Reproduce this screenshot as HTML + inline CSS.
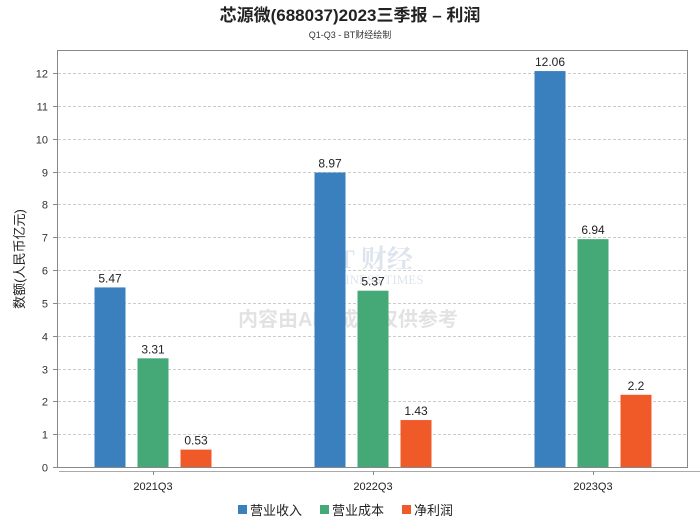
<!DOCTYPE html>
<html><head><meta charset="utf-8"><style>
body{margin:0;background:#fff;width:700px;height:524px;overflow:hidden;font-family:"Liberation Sans","Noto Sans CJK SC",sans-serif}
</style></head><body>
<svg id="chart" width="700" height="524" xmlns="http://www.w3.org/2000/svg">
<text x="350" y="21" text-anchor="middle" font-size="17" font-weight="bold" fill="#222" font-family="Liberation Sans,Noto Sans CJK SC,sans-serif">芯源微(688037)2023三季报 – 利润</text>
<text x="350" y="38" text-anchor="middle" font-size="9" fill="#333" font-family="Liberation Sans,Noto Sans CJK SC,sans-serif">Q1-Q3 - BT财经绘制</text>
<g id="grid"></g>
<rect x="57.5" y="50.5" width="630" height="417" fill="none" stroke="#888"/>
<line x1="59" y1="471.5" x2="700" y2="471.5" stroke="#aaa"/>
<g opacity="0.18">
<text x="320" y="268" font-size="26" font-family="Liberation Serif,Noto Serif CJK SC,serif" font-weight="bold" fill="#4a6fa5">BT 财经</text>
<text x="320" y="284" font-size="13" font-family="Liberation Serif,serif" fill="#4a6fa5">BUSINESS TIMES</text>
<text x="348" y="326" text-anchor="middle" font-size="20" font-weight="bold" fill="#666" font-family="Liberation Sans,Noto Sans CJK SC,sans-serif">内容由AI生成，仅供参考</text>
</g>
<g id="bars"></g>
<text transform="translate(24,259) rotate(-90)" text-anchor="middle" font-size="13" fill="#222" font-family="Liberation Sans,Noto Sans CJK SC,sans-serif">数额(人民币亿元)</text>
<g font-size="13" fill="#222" font-family="Liberation Sans,Noto Sans CJK SC,sans-serif">
<rect x="238" y="505" width="9" height="9" fill="#3a80bf"/>
<text x="250" y="515">营业收入</text>
<rect x="320" y="505" width="9" height="9" fill="#45a877"/>
<text x="332" y="515">营业成本</text>
<rect x="402" y="505" width="9" height="9" fill="#f05a28"/>
<text x="414" y="515">净利润</text>
</g>
</svg>
<script>
const categories = ["2021Q3","2022Q3","2023Q3"];
const revenue = [5.47, 8.97, 12.06];
const cost = [3.31, 5.37, 6.94];
const profit = [0.53, 1.43, 2.2];
const yTicks = [0,1,2,3,4,5,6,7,8,9,10,11,12];
const NS="http://www.w3.org/2000/svg";
const svg=document.getElementById('chart');
const grid=document.getElementById('grid');
const barsG=document.getElementById('bars');
function y(v){return 467-v*32.83;}
function xc(i){return 153+i*220;}
function mk(tag,attrs,parent){const e=document.createElementNS(NS,tag);for(const k in attrs)e.setAttribute(k,attrs[k]);parent.appendChild(e);return e;}
yTicks.forEach(t=>{
  const yy=Math.round(y(t))+0.5;
  if(t>0){const l=mk('line',{x1:58,x2:687,y1:yy,y2:yy,stroke:'#ccc','stroke-dasharray':'3,2'},grid);
  
  }
  const tk=mk('line',{x1:53,x2:57,y1:yy,y2:yy,stroke:'#888'},grid);
  
  
  const tx=mk('text',{x:48,y:yy+4,'text-anchor':'end','font-size':11,fill:'#333'},grid);
  
  
  tx.textContent=t;
});
const series=[[revenue,'#3a80bf',-43,'revenue'],[cost,'#45a877',0,'cost'],[profit,'#f05a28',43,'profit']];
categories.forEach((c,i)=>{
  const tk=mk('line',{x1:xc(i)+0.5,x2:xc(i)+0.5,y1:471,y2:475,stroke:'#888'},barsG);
  
  
  const lb=mk('text',{x:xc(i),y:490,'text-anchor':'middle','font-size':11,fill:'#222'},barsG);
  
  
  lb.textContent=c;
  series.forEach(s=>{
    const v=s[0][i];const cx=xc(i)+s[2];
    const r=mk('rect',{x:cx-15.5,y:y(v),width:31,height:467-y(v),fill:s[1]},barsG);
    
    
    const t=mk('text',{x:cx,y:y(v)-5,'text-anchor':'middle','font-size':12,fill:'#222'},barsG);
    
    
    t.textContent=v;
  });
});
</script>
</body></html>
